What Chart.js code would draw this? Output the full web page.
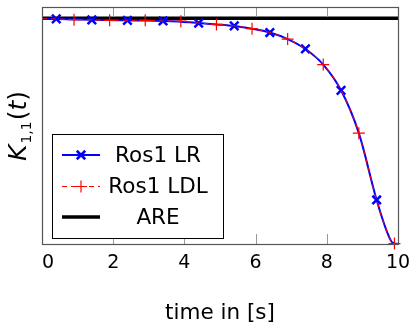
<!DOCTYPE html>
<html>
<head>
<meta charset="utf-8">
<script src="https://cdn.jsdelivr.net/npm/chart.js@4.4.1/dist/chart.umd.min.js"></script>
<style>
html, body { margin: 0; padding: 0; background: #fff; }
#riccati { display: block; }
</style>
</head>
<body>
<canvas id="riccati" width="413" height="327"></canvas>
<script>
// sample times of the two Rosenbrock runs (s)
var times = [0, 0.4, 0.9, 1.4, 1.9, 2.4, 2.9, 3.4, 3.9, 4.4, 4.9, 5.4, 5.9, 6.4, 6.9, 7.4, 7.9, 8.4, 8.9, 9.4, 9.7, 9.82, 9.9, 10];
var lrValues = [0.998, 0.997, 0.995, 0.993, 0.992, 0.991, 0.990, 0.988, 0.985, 0.979, 0.973, 0.966, 0.954, 0.937, 0.908, 0.864, 0.795, 0.681, 0.491, 0.195, 0.05, 0.01, 0.003, 0];
var ldlValues = [0.998, 0.997, 0.994, 0.993, 0.991, 0.991, 0.991, 0.988, 0.987, 0.979, 0.973, 0.966, 0.954, 0.937, 0.908, 0.864, 0.795, 0.681, 0.491, 0.195, 0.05, 0.01, 0.002, 0];
var lrMarkTimes = [0.4, 1.4, 2.4, 3.4, 4.4, 5.4, 6.4, 7.4, 8.4, 9.4];
var ldlMarkTimes = [0.9, 1.9, 2.9, 3.9, 4.9, 5.9, 6.9, 7.9, 8.9, 9.9];
// stationary solution of the algebraic Riccati equation
var areTimes = [0, 10];
var areValues = [1, 1];
var xTicks = [0, 2, 4, 6, 8, 10];

function toPoints(xs, ys) {
    var pts = [];
    for (var i = 0; i < xs.length; i++) {
        pts.push({ x: xs[i], y: ys[i] });
    }
    return pts;
}

function markAt(marks, r) {
    return function(ctx) {
        return marks.indexOf(times[ctx.dataIndex]) >= 0 ? r : 0;
    };
}

// closed box with short inward ticks on top and bottom
var frame = {
    id: 'frame',
    afterDatasetsDraw: function(chart) {
        var ctx = chart.ctx, a = chart.chartArea, x = chart.scales.x;
        ctx.save();
        ctx.strokeStyle = '#999';
        ctx.lineWidth = 1;
        xTicks.forEach(function(v) {
            var px = Math.round(x.getPixelForValue(v)) + 0.5;
            ctx.beginPath();
            ctx.moveTo(px, a.bottom);
            ctx.lineTo(px, a.bottom - 10);
            ctx.moveTo(px, a.top);
            ctx.lineTo(px, a.top + 10);
            ctx.stroke();
        });
        ctx.strokeStyle = '#555';
        ctx.lineWidth = 1.2;
        ctx.strokeRect(Math.round(a.left) + 0.5, Math.round(a.top) + 0.5, Math.round(a.width), Math.round(a.height));
        ctx.restore();
    }
};

// legend box inside the plot, lower left
var legendBox = {
    id: 'legendBox',
    afterDraw: function(chart) {
        var ctx = chart.ctx;
        var box = { left: 52, top: 134, right: 223, bottom: 238 };
        var rows = [155, 186.5, 217];
        ctx.save();
        ctx.fillStyle = '#fff';
        ctx.fillRect(box.left, box.top, box.right - box.left, box.bottom - box.top);
        ctx.strokeStyle = '#000';
        ctx.lineWidth = 1;
        ctx.strokeRect(box.left + 0.5, box.top + 0.5, box.right - box.left, box.bottom - box.top);
        chart.data.datasets.forEach(function(ds, i) {
            var y = rows[i];
            ctx.strokeStyle = ds.borderColor;
            ctx.lineWidth = ds.borderWidth;
            ctx.setLineDash(ds.borderDash || []);
            ctx.beginPath();
            ctx.moveTo(62, y);
            ctx.lineTo(100, y);
            ctx.stroke();
            ctx.setLineDash([]);
            if (ds.pointStyle) {
                ctx.lineWidth = ds.pointBorderWidth;
                Chart.helpers.drawPoint(ctx, { pointStyle: ds.pointStyle, radius: 6, borderWidth: ds.pointBorderWidth, rotation: 0 }, 81, y);
            }
            ctx.fillStyle = '#000';
            ctx.font = "21.5px 'DejaVu Sans'";
            ctx.textAlign = 'center';
            ctx.textBaseline = 'middle';
            ctx.fillText(ds.label, 158, y + 1);
        });
        ctx.restore();
    }
};

// rotated y title K_{1,1}(t)
var yTitle = {
    id: 'yTitle',
    afterDraw: function(chart) {
        var ctx = chart.ctx;
        var big = "italic 25px 'DejaVu Sans'", up = "25px 'DejaVu Sans'", sub = "14px 'DejaVu Sans'";
        ctx.save();
        ctx.translate(17, 126);
        ctx.rotate(-Math.PI / 2);
        ctx.fillStyle = '#000';
        ctx.textBaseline = 'alphabetic';
        ctx.textAlign = 'left';
        ctx.font = big; var wK = ctx.measureText('K').width;
        ctx.font = sub; var wS = ctx.measureText('1,1').width;
        ctx.font = up; var wL = ctx.measureText('(').width;
        ctx.font = big; var wT = ctx.measureText('t').width;
        var x0 = -(wK + wS + 2 * wL + wT + 2) / 2;
        var base = 9;
        ctx.font = big; ctx.fillText('K', x0, base);
        x0 += wK + 1;
        ctx.font = sub; ctx.fillText('1,1', x0, base + 5);
        x0 += wS + 1;
        ctx.font = up; ctx.fillText('(', x0, base);
        x0 += wL;
        ctx.font = big; ctx.fillText('t', x0, base);
        x0 += wT;
        ctx.font = up; ctx.fillText(')', x0, base);
        ctx.restore();
    }
};

new Chart(document.getElementById('riccati'), {
    type: 'line',
    data: {
        datasets: [
            {
                label: 'Ros1 LR',
                data: toPoints(times, lrValues),
                borderColor: '#0000ff',
                backgroundColor: '#0000ff',
                borderWidth: 2,
                pointStyle: 'crossRot',
                pointRadius: markAt(lrMarkTimes, 6),
                pointBorderWidth: 2.5,
                cubicInterpolationMode: 'monotone',
                clip: false,
                order: 2
            },
            {
                label: 'Ros1 LDL',
                data: toPoints(times, ldlValues),
                borderColor: '#ff0000',
                backgroundColor: '#ff0000',
                borderWidth: 1,
                borderDash: [5, 4],
                pointStyle: 'cross',
                pointRadius: markAt(ldlMarkTimes, 6),
                pointBorderWidth: 1.2,
                cubicInterpolationMode: 'monotone',
                clip: false,
                order: 1
            },
            {
                label: 'ARE',
                data: toPoints(areTimes, areValues),
                borderColor: '#000000',
                borderWidth: 3.5,
                pointRadius: 0,
                order: 3
            }
        ]
    },
    options: {
        responsive: false,
        animation: false,
        devicePixelRatio: 1,
        layout: { padding: { left: 42, right: 15, top: 7, bottom: 0 } },
        plugins: {
            legend: { display: false },
            tooltip: { enabled: false }
        },
        scales: {
            x: {
                type: 'linear',
                min: 0,
                max: 10,
                afterBuildTicks: function(scale) {
                    scale.ticks = xTicks.map(function(v) { return { value: v }; });
                },
                afterFit: function(scale) {
                    scale.height = 83;
                    scale.paddingLeft = 0;
                    scale.paddingRight = 0;
                },
                grid: { display: false, drawTicks: false },
                border: { display: false },
                ticks: {
                    color: '#000',
                    padding: 8,
                    maxRotation: 0,
                    font: { family: 'DejaVu Sans', size: 19 },
                    callback: function(v) { return v === 0 ? '\u20070' : String(v); }
                },
                title: {
                    display: true,
                    text: 'time in [s]',
                    color: '#000',
                    font: { family: 'DejaVu Sans', size: 21.5 },
                    padding: { top: 0, bottom: 1 }
                }
            },
            y: {
                display: false,
                min: 0,
                max: 1.05
            }
        }
    },
    plugins: [frame, legendBox, yTitle]
});
</script>
</body>
</html>
